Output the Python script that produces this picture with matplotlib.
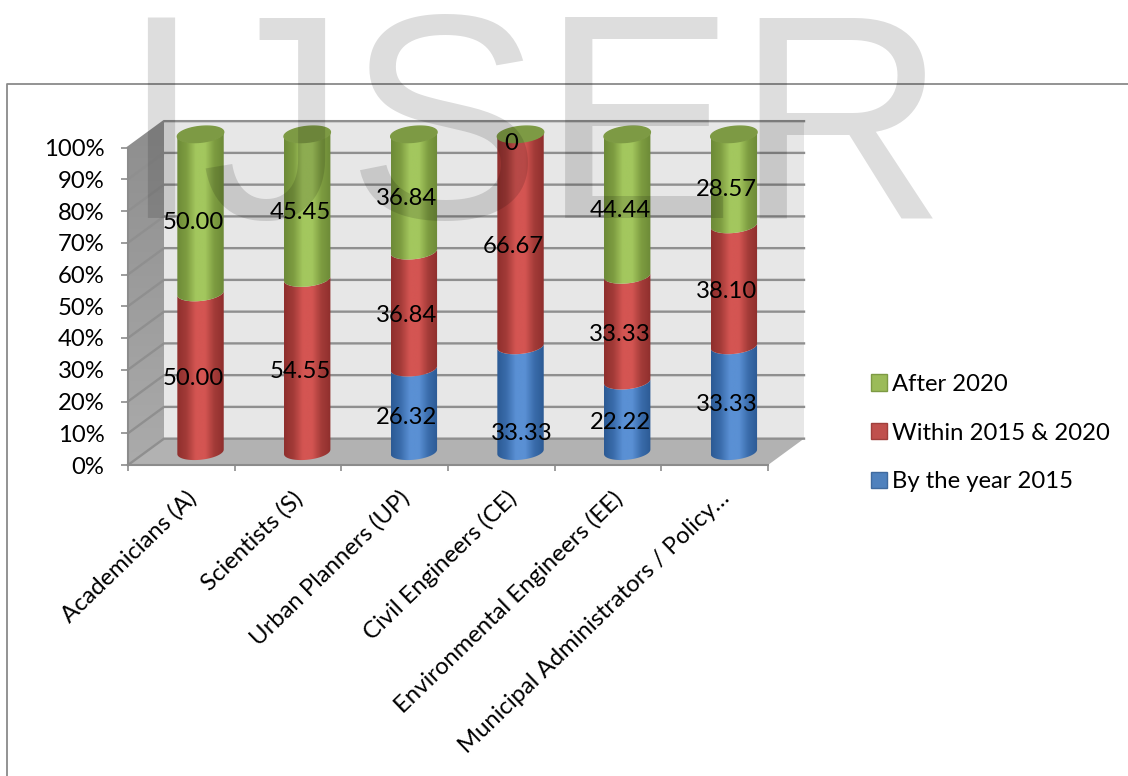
import matplotlib
matplotlib.use('Agg')
import matplotlib.pyplot as plt
import numpy as np
from matplotlib.colors import LinearSegmentedColormap
from matplotlib.lines import Line2D
from matplotlib.patches import Patch, PathPatch, Polygon
from matplotlib.path import Path
from matplotlib.transforms import ScaledTranslation

plt.rcParams['font.family'] = ['Lato', 'DejaVu Sans']

categories = ['Academicians (A)', 'Scientists (S)', 'Urban Planners (UP)', 'Civil Engineers (CE)',
              'Environmental Engineers (EE)', 'Municipal Administrators / Policy\u2026']
by_2015 = [0, 0, 26.32, 33.33, 22.22, 33.33]
within = [50.00, 54.55, 36.84, 66.67, 33.33, 38.10]
after = [50.00, 45.45, 36.84, 0, 44.44, 28.57]
series_names = ['By the year 2015', 'Within 2015 & 2020', 'After 2020']

W, H = 1128, 776
# depth of the box and cylinder shape, in data units
DX, DY = 0.3375, 8.3
BAR_X, BAR_Y = 0.18, 4.15
HALF_W, ELL_H, TILT = 0.2175, 2.5, 0.7
FS = 17.2

green = ['#6d8a38', '#a3c75e', '#7d9c40']
red = ['#8f2f2d', '#d45552', '#a33b38']
blue = ['#2c5a94', '#5a90d4', '#3a6cab']
green_top = '#7d9a44'

fig = plt.figure(figsize=(W / 100, H / 100), dpi=100)
ax = fig.add_axes([128 / W, 1 - 465 / H, 640 / W, 317.5 / H])
ax.patch.set_visible(False)


def gradient(path, colors, extent, z, vertical=False):
    cmap = LinearSegmentedColormap.from_list('g', colors)
    g = np.linspace(0, 1, 128)
    g = g.reshape(-1, 1) if vertical else g.reshape(1, -1)
    im = ax.imshow(g, cmap=cmap, extent=extent, aspect='auto', origin='lower', zorder=z)
    im.set_clip_path(PathPatch(path, transform=ax.transData))
    im.set_clip_box(fig.bbox)


def front_arc(cx, y, left_to_right=True):
    t = np.linspace(np.pi, 2 * np.pi, 40)
    if not left_to_right:
        t = t[::-1]
    u = np.cos(t)
    return np.column_stack([cx + HALF_W * u, y + ELL_H * np.sin(t) + TILT * u])


def cylinder(cx, y0, y1, colors, z):
    pts = np.vstack([front_arc(cx, y0), front_arc(cx, y1, False)])
    path = Path(np.vstack([pts, pts[:1]]), closed=True)
    gradient(path, colors, (cx - HALF_W, cx + HALF_W, y0 - ELL_H - 2, y1 + ELL_H + 2), z)


# box: side wall, back wall, floor
side = [(0, 0), (DX, DY), (DX, 100 + DY), (0, 100)]
gradient(Path(side + side[:1], closed=True), ['#ababab', '#8e8e8e'], (0, DX, 0, 100 + DY), 1, vertical=True)
ax.add_patch(Polygon([(DX, DY), (6 + DX, DY), (6 + DX, 100 + DY), (DX, 100 + DY)],
                     fc='#e7e7e7', ec='none', zorder=1, clip_on=False))
ax.add_patch(Polygon([(0, 0), (DX, DY), (6 + DX, DY), (6, 0)], fc='#b2b2b2', ec='none', zorder=1.2, clip_on=False))

for v in range(0, 101, 10):
    ax.plot([0, DX, 6 + DX], [v, v + DY, v + DY], color='#8f8f8f', lw=1.7, zorder=1.5, clip_on=False,
            solid_joinstyle='miter')

# stacked cylinders, bottom segment first
for i in range(len(categories)):
    cx = i + 0.5 + BAR_X
    base = 0
    for vals, cols in zip([by_2015, within, after], [blue, red, green]):
        if vals[i] > 0:
            c = [cols[0], cols[2], cols[1], cols[1], cols[2], cols[0]]
            cylinder(cx, base + BAR_Y, base + vals[i] + BAR_Y, c, 3 + i * 0.01)
        base += vals[i]
    t = np.linspace(0, 2 * np.pi, 80)
    u = np.cos(t)
    ax.fill(cx + HALF_W * u, base + BAR_Y + ELL_H * np.sin(t) + TILT * u, color=green_top, zorder=3.5, clip_on=False)

# data labels sit a little left of the cylinder axis and below the segment middle
shift = {(0, 3): (5.8, -29), (0, 2): (0, -1), (2, 5): (0, -4), (2, 0): (0, -3), (2, 3): (-2, -3)}
for i in range(len(categories)):
    base = 0
    for s, vals in enumerate([by_2015, within, after]):
        mid = base + vals[i] / 2
        base += vals[i]
        if vals[i] == 0 and s == 0:
            continue
        txt = f'{vals[i]:.2f}' if vals[i] else '0'
        nudge = shift.get((s, i), (0, 0))
        ax.annotate(txt, (i + 0.5 + BAR_X, mid + BAR_Y), xytext=(-5 + nudge[0], -4.3 + nudge[1] * 0.72),
                    textcoords='offset points', ha='center', va='center', fontsize=FS, color='black',
                    zorder=5, annotation_clip=False)

ax.set_xlim(0, 6)
ax.set_ylim(0, 100)
ax.set_yticks(range(0, 101, 10))
ax.set_yticklabels([f'{v}%' for v in range(0, 101, 10)], fontsize=FS)
ax.set_xticks(range(7))
ax.set_xticklabels([])
ax.set_xticks(np.arange(6) + 0.5, categories, minor=True, rotation=44, ha='right', rotation_mode='anchor', fontsize=FS)
ax.tick_params(axis='x', which='minor', length=0, pad=16)
ax.tick_params(axis='x', which='major', length=4, width=1.2, color='#8c8c8c')
ax.tick_params(axis='y', length=5, width=1.2, color='#8c8c8c', pad=12)
for lab in ax.get_xticklabels(minor=True):
    lab.set_transform(lab.get_transform() + ScaledTranslation(3 / 72, 0, fig.dpi_scale_trans))
for name in ['top', 'right']:
    ax.spines[name].set_visible(False)
for name in ['left', 'bottom']:
    ax.spines[name].set_color('#8c8c8c')
    ax.spines[name].set_linewidth(1.5)

handles = [Patch(fc=c, ec=e, lw=1) for c, e in zip(['#9bbb59', '#c0504d', '#4f81bd'], ['#7d9a44', '#a03f3c', '#3f6a9e'])]
ax.legend(handles, series_names[::-1], loc='center left', bbox_to_anchor=(871 / W, 1 - 433 / H),
          bbox_transform=fig.transFigure, frameon=False, fontsize=FS, handlelength=0.67, handleheight=0.67,
          handletextpad=0.2, labelspacing=1.16, borderpad=0, borderaxespad=0)

# outer frame, open to the right and bottom
fig.add_artist(Line2D([7 / W, 7 / W, 1], [0, 1 - 84 / H, 1 - 84 / H], color='#8a8a8a', lw=1.3))

fig.text(120 / W, 1 - 218 / H, 'IJSER', fontsize=210, family='Liberation Sans', color='black', alpha=0.135,
         ha='left', va='baseline', zorder=10)

fig.savefig('out.png', dpi=100)
